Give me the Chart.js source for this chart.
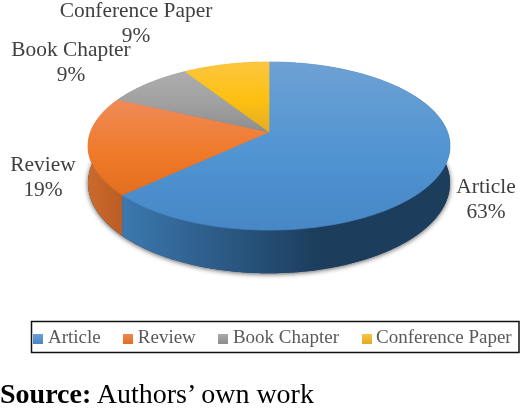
<!DOCTYPE html>
<html>
<head>
<meta charset="utf-8">
<script src="https://cdn.jsdelivr.net/npm/chart.js@4"></script>
<style>
  html, body { margin: 0; padding: 0; background: #fff; overflow: hidden; }
  #wrap { position: relative; width: 520px; height: 413px; overflow: hidden; }
  #pie3d { display: block; }
  #source { position: absolute; left: 0; top: 378px; font: 28px "Liberation Serif", serif; color: #000; white-space: nowrap; }
</style>
</head>
<body>
<div id="wrap">
  <canvas id="pie3d" width="550" height="413"></canvas>
  <div id="source"><b>Source:</b> Authors’ own work</div>
</div>
<script>
// data
const categories = ['Article', 'Review', 'Book Chapter', 'Conference Paper'];
const shares = [63, 19, 9, 9];

// flat colours and shading of the pie
const baseColors = ['#5b9bd5', '#ed7d31', '#a5a5a5', '#ffc000'];
const topShades = [
  ['#6ea1d4', '#5094d2', '#4787c6'],
  ['#ee8a58', '#f07a2a', '#e26e1f'],
  ['#adadad', '#a0a0a0', '#8d8d8d'],
  ['#fcc640', '#fdc010', '#e3ac26']
];
const sideShades = [
  ['#3b77ae', '#1c3d5c'],
  ['#cc6a2c', '#b95c24'],
  ['#777777', '#777777'],
  ['#b08a10', '#b08a10']
];

// centre of each data label: [x, first line y]
const labelSpots = [[486, 187], [43, 165], [71, 50], [136, 11]];

// tilted disc
const cx = 269, cy = 132, rx = 178.5, ry = 81.7, tilt = 1 / 6, depth = 36;

function project(angle, drop) {
  const u = Math.cos(angle), v = Math.sin(angle);
  const s = 1 / (1 - tilt * v);
  return [cx + rx * u * s, cy + ry * v * s + drop * s];
}

function traceRim(ctx, from, to, drop, first) {
  const steps = Math.max(2, Math.ceil(Math.abs(to - from) / 0.01));
  for (let i = 0; i <= steps; i++) {
    const p = project(from + (to - from) * i / steps, drop);
    if (i === 0 && first) ctx.moveTo(p[0], p[1]); else ctx.lineTo(p[0], p[1]);
  }
}

// legend swatches, shaded like the slices
const swatches = topShades.map(shade => {
  const c = document.createElement('canvas');
  c.width = 10;
  c.height = 10;
  const x = c.getContext('2d');
  const g = x.createLinearGradient(0, 0, 0, 10);
  g.addColorStop(0, shade[0]);
  g.addColorStop(1, shade[2]);
  x.fillStyle = g;
  x.fillRect(0, 0, 10, 10);
  return c;
});

const pie3d = {
  id: 'pie3d',
  beforeDatasetsDraw(chart) {
    const ctx = chart.ctx;
    const arcs = chart.getDatasetMeta(0).data;

    // soft shadow under the disc
    ctx.save();
    ctx.shadowColor = 'rgba(0,0,0,.65)';
    ctx.shadowBlur = 5;
    ctx.shadowOffsetY = 1;
    ctx.fillStyle = '#1c3d5c';
    ctx.beginPath();
    traceRim(ctx, 0, Math.PI * 2, depth, true);
    ctx.closePath();
    ctx.fill();
    ctx.restore();

    // rim, back slices first
    arcs.forEach((arc, i) => {
      const { startAngle, endAngle } = arc.getProps(['startAngle', 'endAngle'], true);
      const g = ctx.createLinearGradient(i === 0 ? 125 : 88, 0, i === 0 ? 320 : 125, 0);
      g.addColorStop(0, sideShades[i][0]);
      g.addColorStop(1, sideShades[i][1]);
      ctx.fillStyle = g;
      ctx.beginPath();
      traceRim(ctx, startAngle, endAngle, 0, true);
      traceRim(ctx, endAngle, startAngle, depth, false);
      ctx.closePath();
      ctx.fill();
    });

    // top face, stroked too so no dark seam shows between slices
    arcs.forEach((arc, i) => {
      const { startAngle, endAngle } = arc.getProps(['startAngle', 'endAngle'], true);
      const ys = [];
      for (let a = startAngle; a < endAngle; a += 0.02) ys.push(project(a, 0)[1]);
      ys.push(cy);
      const g = ctx.createLinearGradient(0, Math.min(...ys), 0, Math.max(...ys));
      g.addColorStop(0, topShades[i][0]);
      g.addColorStop(0.55, topShades[i][1]);
      g.addColorStop(1, topShades[i][2]);
      ctx.fillStyle = g;
      ctx.strokeStyle = g;
      ctx.lineWidth = 0.7;
      ctx.beginPath();
      ctx.moveTo(cx, cy);
      traceRim(ctx, startAngle, endAngle, 0, false);
      ctx.closePath();
      ctx.fill();
      ctx.stroke();
    });
    return false;
  },
  afterDraw(chart) {
    const ctx = chart.ctx;
    // data labels
    ctx.save();
    ctx.font = '21.4px "Liberation Serif", serif';
    ctx.fillStyle = '#404040';
    ctx.textAlign = 'center';
    ctx.textBaseline = 'middle';
    categories.forEach((name, i) => {
      ctx.fillText(name, labelSpots[i][0], labelSpots[i][1]);
      ctx.fillText(shares[i] + '%', labelSpots[i][0], labelSpots[i][1] + 25);
    });
    // legend frame
    ctx.strokeStyle = '#111';
    ctx.lineWidth = 1.5;
    ctx.strokeRect(31.5, 321.5, 487.5, 31);
    ctx.restore();
  }
};

new Chart(document.getElementById('pie3d'), {
  type: 'pie',
  data: {
    labels: categories,
    datasets: [{
      data: shares,
      backgroundColor: baseColors,
      borderWidth: 0
    }]
  },
  options: {
    responsive: false,
    animation: false,
    devicePixelRatio: 1,
    layout: { padding: { bottom: 55 } },
    plugins: {
      tooltip: { enabled: false },
      legend: {
        position: 'bottom',
        labels: {
          usePointStyle: true,
          pointStyleWidth: 0.1,
          boxHeight: 10,
          padding: 27.5,
          color: '#595959',
          font: { family: '"Liberation Serif", serif', size: 19 },
          generateLabels(chart) {
            return Chart.overrides.pie.plugins.legend.labels.generateLabels(chart)
              .map((item, i) => Object.assign(item, { pointStyle: swatches[i] }));
          }
        }
      }
    }
  },
  plugins: [pie3d]
});
</script>
</body>
</html>
